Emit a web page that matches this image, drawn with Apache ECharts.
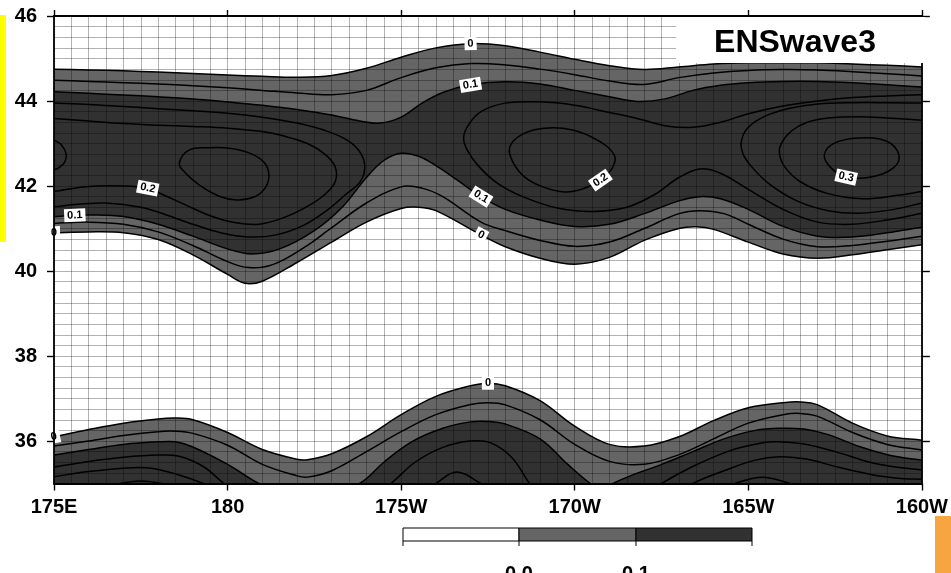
<!DOCTYPE html>
<html>
<head>
<meta charset="utf-8">
<title>ENSwave3</title>
<script src="https://cdn.jsdelivr.net/npm/echarts@6/dist/echarts.min.js"></script>
<style>
html, body { margin: 0; padding: 0; background: #fff; }
#main { width: 951px; height: 573px; }
</style>
</head>
<body>
<div id="main"></div>
<script>
/*
 * ENSwave3 : shaded contour map, 175E - 160W, 35N - 46N
 * contours are kept as [lon, lat] lists (lon east-positive, 185 = 175W)
 */

var lonMin = 175, lonMax = 200;
var latMin = 35, latMax = 46;
var lonTicks = [175, 180, 185, 190, 195, 200];
var latTicks = [36, 38, 40, 42, 44, 46];
var shadeLevels = ['0.0', '0.1'];

/* ---- northern band ---- */
var mainZeroTop = [[175,44.75],[176,44.73],[177,44.71],[178,44.68],[179,44.65],[180,44.61],[181,44.58],[182,44.56],[183,44.6],[184,44.77],[185,45.03],[186,45.25],[187,45.35],[188,45.3],[189,45.15],[190,44.98],[191,44.83],[192,44.74],[193,44.8],[194,44.87],[195,44.9],[196,44.9],[197,44.9],[198,44.87],[199,44.84],[200,44.8]];
var mainFiveTop = [[175,44.49],[176,44.46],[177,44.43],[178,44.4],[179,44.36],[180,44.31],[181,44.25],[182,44.19],[183,44.15],[184,44.25],[185,44.55],[186,44.78],[187,44.88],[188,44.85],[189,44.75],[190,44.62],[191,44.47],[192,44.39],[193,44.55],[194,44.66],[195,44.72],[196,44.74],[197,44.73],[198,44.69],[199,44.64],[200,44.59]];
var mainTenTop = [[175,44.22],[176,44.18],[177,44.14],[178,44.1],[179,44.05],[180,43.98],[181,43.9],[182,43.8],[183,43.67],[183.8,43.53],[184.4,43.48],[185,43.62],[185.6,43.95],[186.2,44.2],[187,44.38],[188,44.45],[189,44.4],[190,44.25],[191,44.1],[191.8,43.99],[192.6,44.05],[193.4,44.25],[194.2,44.37],[195,44.43],[196,44.46],[197,44.46],[198,44.43],[199,44.38],[200,44.33]];
var mainTenBottom = [[175,41.28],[175.6,41.31],[176,41.32],[177,41.28],[178,41.1],[179,40.82],[180,40.52],[180.7,40.4],[181.5,40.52],[182.5,40.95],[183.3,41.5],[184,42.2],[184.5,42.6],[185,42.77],[185.5,42.7],[186,42.48],[186.6,42.15],[187.3,41.75],[188,41.45],[189,41.2],[190,41.05],[191,41.1],[192,41.35],[193,41.65],[193.6,41.75],[194.2,41.7],[195,41.45],[196,41.05],[197,40.82],[198,40.8],[199,40.9],[200,41.03]];
var mainFiveBottom = [[175,41.12],[176,41.15],[177,41.1],[178,40.92],[179,40.6],[180,40.22],[180.6,40.08],[181.3,40.15],[182.2,40.55],[183,41.02],[184,41.6],[185,41.98],[185.6,41.95],[186.2,41.75],[187.3,41.15],[188,40.95],[189,40.72],[190,40.58],[191,40.68],[192,41.0],[193,41.35],[193.6,41.42],[194.3,41.35],[195,41.1],[196,40.75],[197,40.57],[198,40.6],[199,40.7],[200,40.82]];
var mainZeroBottom = [[175,40.9],[176,40.92],[177,40.9],[178,40.74],[179,40.38],[180,39.92],[180.5,39.71],[181,39.76],[182,40.2],[183,40.68],[184,41.15],[185,41.47],[185.5,41.5],[186,41.42],[187.3,40.85],[188,40.57],[189,40.3],[190,40.16],[191,40.32],[192,40.72],[193,41.0],[193.5,41.04],[194,40.98],[195,40.68],[196,40.4],[197,40.3],[198,40.38],[199,40.5],[200,40.62]];

var westFifteen = [[175,43.95],[176,43.92],[177,43.87],[178,43.82],[179,43.77],[180,43.71],[181,43.62],[182,43.48],[182.9,43.28],[183.5,43.05],[183.85,42.75],[183.95,42.4],[183.8,42.08],[183.4,41.8],[182.9,41.45],[182.2,41.08],[181.4,40.85],[180.6,40.8],[179.8,40.9],[179,41.1],[178.2,41.33],[177.5,41.5],[176.5,41.6],[175.7,41.57],[175,41.51]];
var westTwenty = [[175,43.59],[176,43.53],[177,43.47],[178,43.43],[179,43.4],[180,43.36],[181,43.28],[181.6,43.18],[182.3,43.0],[182.8,42.75],[183.1,42.45],[183.1,42.1],[182.8,41.8],[182.3,41.52],[181.6,41.25],[180.9,41.1],[180.2,41.14],[179.5,41.3],[178.8,41.55],[178.05,41.83],[177.7,41.95],[177,42.0],[176,41.99],[175,41.87]];
var westQuarterEdge = [[175,43.08],[175.2,42.98],[175.35,42.75],[175.3,42.55],[175.12,42.42],[175,42.38]];
var westQuarter = [[178.61,42.54],[178.9,42.85],[179.47,42.9],[180.05,42.89],[180.62,42.78],[181.05,42.56],[181.19,42.26],[181.08,41.95],[180.76,41.74],[180.28,41.67],[179.76,41.76],[179.19,42.02],[178.76,42.33]];
var midTwenty = [[188.13,42.92],[188.5,43.22],[189.13,43.36],[189.94,43.32],[190.65,43.08],[191.14,42.73],[191.08,42.42],[190.74,42.14],[190.22,41.93],[189.71,41.86],[189.08,41.98],[188.56,42.21],[188.22,42.56]];
var eastFifteen = [[200,44.15],[199,44.12],[198,44.08],[197,44.0],[196,43.88],[195,43.7],[194.2,43.5],[193.4,43.38],[192.6,43.42],[191.8,43.59],[191,43.73],[190,43.9],[189,43.98],[188,43.95],[187.3,43.75],[186.95,43.45],[186.8,43.15],[186.9,42.85],[187.25,42.45],[187.8,42.05],[188.5,41.75],[189.5,41.48],[190.5,41.4],[191.5,41.5],[192.3,41.8],[193,42.2],[193.6,42.4],[194.2,42.3],[195,41.92],[196,41.45],[197,41.15],[198,41.1],[199,41.2],[200,41.36]];
var eastTwenty = [[200,43.95],[199,43.96],[198,43.96],[197,43.93],[196.2,43.83],[195.5,43.65],[195,43.38],[194.8,43.05],[194.85,42.75],[195.1,42.45],[195.6,42.05],[196.4,41.65],[197.3,41.42],[198.2,41.36],[199.2,41.45],[200,41.6]];
var eastQuarter = [[200,43.55],[199,43.6],[198.2,43.63],[197.3,43.6],[196.7,43.5],[196.25,43.3],[195.95,43.0],[195.9,42.75],[196.05,42.45],[196.5,42.1],[197.3,41.82],[198.3,41.7],[199.3,41.78],[200,41.87]];
var eastThirty = [[197.19,42.73],[197.48,43.01],[198.19,43.13],[198.97,43.06],[199.34,42.73],[199.17,42.42],[198.54,42.21],[197.82,42.21],[197.39,42.42]];

/* ---- southern band ---- */
var lowZero = [[175,36.1],[176,36.27],[177,36.42],[178,36.52],[178.5,36.54],[179,36.5],[180,36.2],[181,35.8],[182,35.57],[182.3,35.56],[183,35.7],[184,36.1],[185,36.62],[186,37.05],[187,37.3],[187.5,37.36],[188,37.3],[189,36.95],[190,36.35],[191,35.92],[192,35.88],[193,36.1],[194,36.48],[195,36.78],[196,36.9],[196.5,36.92],[197,36.85],[198,36.42],[199,36.12],[200,36.02]];
var lowFive = [[175,35.88],[176,36.0],[177,36.13],[178,36.22],[178.5,36.23],[179,36.18],[180,35.9],[181,35.45],[182,35.18],[182.3,35.15],[183,35.3],[184,35.75],[185,36.22],[186,36.62],[187,36.86],[187.5,36.9],[188,36.85],[189,36.5],[190,35.92],[191,35.52],[192,35.45],[193,35.68],[194,36.05],[195,36.42],[196,36.62],[196.5,36.65],[197,36.58],[198,36.2],[199,35.92],[200,35.79]];
var lowTen = [[175,35.67],[176,35.8],[177,35.92],[178,35.98],[178.5,35.98],[179,35.86],[180,35.45],[180.9,35.0],[181.6,34.75],[182.6,34.7],[183.8,35.0],[184.5,35.5],[185.3,35.98],[186.2,36.3],[187,36.45],[187.5,36.46],[188,36.4],[189,36.05],[189.8,35.45],[190.45,35.0],[190.8,34.85],[191.1,35.0],[191.6,35.18],[192.5,35.45],[193.4,35.75],[194.3,36.05],[195.2,36.25],[195.9,36.3],[196.6,36.28],[197.3,36.15],[198.2,35.87],[199.1,35.66],[200,35.55]];
var lowFifteenW = [[175,35.39],[176,35.52],[177,35.62],[178,35.67],[178.6,35.64],[179.3,35.4],[179.9,35.0],[180.4,34.75]];
var lowTwentyW = [[175,35.16],[176,35.28],[177,35.36],[177.8,35.36],[178.6,35.2],[179.3,35.0],[179.8,34.8]];
var lowQuarterW = [[176.5,34.9],[176.9,35.0],[177.5,35.06],[178.1,35.0],[178.5,34.9]];
var lowFifteenM = [[184.2,34.75],[184.7,35.0],[185.4,35.5],[186.2,35.85],[187,36.0],[187.6,35.95],[188.2,35.6],[188.7,35.0],[189,34.75]];
var lowTwentyM = [[185.8,34.9],[186.0,35.0],[186.6,35.27],[187.3,35.0],[187.5,34.9]];
var lowFifteenE = [[192.2,34.8],[192.5,35.0],[193.4,35.4],[194.5,35.78],[195.5,35.97],[195.9,35.98],[196.6,35.93],[197.5,35.75],[198.5,35.5],[199.3,35.38],[200,35.32]];
var lowTwentyE = [[193.1,34.8],[193.4,35.0],[194.3,35.3],[195.2,35.55],[195.9,35.63],[196.7,35.57],[197.6,35.38],[198.6,35.2],[199.4,35.12],[200,35.1]];
var lowQuarterE = [[194.3,34.9],[194.6,35.0],[195.4,35.15],[196.2,35.0],[196.5,34.9]];

/* ---- drawing setup ---- */
var shadeColors = ['#ffffff', '#656565', '#313131'];
var belowAxis = latMin - 1;   // only used to close the southern shapes under the frame

var shadeRegions = [
    { top: mainZeroTop, bottom: mainZeroBottom, color: shadeColors[1] },
    { top: mainTenTop, bottom: mainTenBottom, color: shadeColors[2] },
    { top: lowZero, color: shadeColors[1] },
    { top: lowTen, color: shadeColors[2] }
];

var contourLines = [
    { pts: mainZeroTop }, { pts: mainFiveTop }, { pts: mainTenTop },
    { pts: mainTenBottom }, { pts: mainFiveBottom }, { pts: mainZeroBottom },
    { pts: westFifteen }, { pts: westTwenty }, { pts: westQuarterEdge },
    { pts: westQuarter, closed: true }, { pts: midTwenty, closed: true },
    { pts: eastFifteen }, { pts: eastTwenty }, { pts: eastQuarter },
    { pts: eastThirty, closed: true },
    { pts: lowZero }, { pts: lowFive }, { pts: lowTen },
    { pts: lowFifteenW }, { pts: lowTwentyW }, { pts: lowQuarterW },
    { pts: lowFifteenM }, { pts: lowTwentyM },
    { pts: lowFifteenE }, { pts: lowTwentyE }, { pts: lowQuarterE }
];

var contourLabels = [
    { line: mainZeroTop, lon: 187, text: '0' },
    { line: mainTenTop, lon: 187, text: '0.1' },
    { line: mainTenBottom, lon: 175.6, text: '0.1' },
    { line: mainZeroBottom, lon: 175, text: '0' },
    { line: westTwenty, lon: 177.7, text: '0.2' },
    { line: mainTenBottom, lon: 187.3, text: '0.1' },
    { line: mainZeroBottom, lon: 187.3, text: '0' },
    { line: midTwenty, lon: 190.74, text: '0.2' },
    { line: eastThirty, lon: 197.82, text: '0.3' },
    { line: lowZero, lon: 175, text: '0' },
    { line: lowZero, lon: 187.5, text: '0' }
];

function lonLabel(v) {
    if (v < 180) return v + 'E';
    if (v === 180) return '180';
    return (360 - v) + 'W';
}

function indexOfLon(pts, lon) {
    for (var i = 0; i < pts.length; i++) {
        if (pts[i][0] === lon) return i;
    }
    return 0;
}

/* cardinal spline through the projected points, as svg path commands */
function curveCmd(px, closed, first) {
    var n = px.length;
    var s = 0.36;
    function P(i) {
        if (closed) return px[(i + n) % n];
        return px[Math.max(0, Math.min(n - 1, i))];
    }
    function tangent(i) {
        var a = P(i - 1), b = P(i + 1);
        var dx = b[0] - a[0], dy = b[1] - a[1];
        var len = Math.sqrt(dx * dx + dy * dy) || 1;
        return [dx / len, dy / len];
    }
    function f(v) { return v.toFixed(2); }
    var d = (first ? 'M' : 'L') + f(px[0][0]) + ' ' + f(px[0][1]);
    var segs = closed ? n : n - 1;
    for (var i = 0; i < segs; i++) {
        var p1 = P(i), p2 = P(i + 1);
        var t1 = tangent(i), t2 = tangent(i + 1);
        var dx = p2[0] - p1[0], dy = p2[1] - p1[1];
        var len = Math.sqrt(dx * dx + dy * dy);
        d += 'C' + f(p1[0] + t1[0] * len * s) + ' ' + f(p1[1] + t1[1] * len * s) + ' ' +
             f(p2[0] - t2[0] * len * s) + ' ' + f(p2[1] - t2[1] * len * s) + ' ' +
             f(p2[0]) + ' ' + f(p2[1]);
    }
    return d;
}

function project(api, pts) {
    return pts.map(function (p) { return api.coord(p); });
}

var labelFont = { fontFamily: 'Liberation Sans', fontWeight: 'bold', fontSize: 20, color: '#000' };
var frameLine = { show: true, onZero: false, lineStyle: { color: '#000', width: 1.8 } };
var gridLine = { show: true, lineStyle: { color: 'rgba(0,0,0,0.3)', width: 1 } };

var myChart = echarts.init(document.getElementById('main'), null, { renderer: 'canvas' });

var option = {
    animation: false,
    backgroundColor: '#fff',
    grid: { left: 54, right: 25, top: 16, bottom: 89.5 },
    xAxis: [
        { type: 'value', min: lonMin, max: lonMax, interval: 0.5, position: 'bottom', z: 2,
          axisLine: { show: false }, axisTick: { show: false }, axisLabel: { show: false },
          splitLine: gridLine },
        { type: 'value', min: lonMin, max: lonMax, interval: 5, position: 'bottom', z: 6,
          axisLine: frameLine,
          axisTick: { show: true, length: 7, lineStyle: { color: '#000', width: 1.4 } },
          axisLabel: Object.assign({ margin: 14, formatter: lonLabel, showMinLabel: true, showMaxLabel: true }, labelFont),
          splitLine: { show: false } },
        { type: 'value', min: lonMin, max: lonMax, interval: 5, position: 'top', z: 6,
          axisLine: frameLine,
          axisTick: { show: true, length: 6, lineStyle: { color: '#000', width: 1.4 } },
          axisLabel: { show: false }, splitLine: { show: false } }
    ],
    yAxis: [
        { type: 'value', min: latMin, max: latMax, interval: 0.25, position: 'left', z: 2,
          axisLine: { show: false }, axisTick: { show: false }, axisLabel: { show: false },
          splitLine: gridLine },
        { type: 'value', min: latMin, max: latMax, position: 'left', z: 6,
          axisLine: frameLine,
          axisTick: { show: true, length: 7, customValues: latTicks, lineStyle: { color: '#000', width: 1.4 } },
          axisLabel: Object.assign({ margin: 17, customValues: latTicks }, labelFont),
          splitLine: { show: false } },
        { type: 'value', min: latMin, max: latMax, position: 'right', z: 6,
          axisLine: frameLine,
          axisTick: { show: true, length: 8, customValues: latTicks, lineStyle: { color: '#000', width: 1.4 } },
          axisLabel: { show: false }, splitLine: { show: false } }
    ],
    series: [
        {
            type: 'custom', name: 'shading', coordinateSystem: 'cartesian2d',
            clip: true, silent: true, z: 1,
            data: shadeRegions.map(function (r, i) { return [lonMin, latMin, i]; }),
            renderItem: function (params, api) {
                var r = shadeRegions[params.dataIndex];
                var d = curveCmd(project(api, r.top), false, true);
                if (r.bottom) {
                    d += curveCmd(project(api, r.bottom.slice().reverse()), false, false);
                } else {
                    var br = api.coord([lonMax, belowAxis]), bl = api.coord([lonMin, belowAxis]);
                    d += 'L' + br[0] + ' ' + br[1] + 'L' + bl[0] + ' ' + bl[1];
                }
                d += 'Z';
                return { type: 'path', shape: { pathData: d }, style: { fill: r.color } };
            }
        },
        {
            type: 'custom', name: 'contours', coordinateSystem: 'cartesian2d',
            clip: true, silent: true, z: 4,
            data: contourLines.map(function (c, i) { return [lonMin, latMin, i]; }),
            renderItem: function (params, api) {
                var c = contourLines[params.dataIndex];
                var d = curveCmd(project(api, c.pts), !!c.closed, true) + (c.closed ? 'Z' : '');
                return {
                    type: 'path', shape: { pathData: d },
                    style: { fill: 'none', stroke: '#000', lineWidth: 1.5 }
                };
            }
        },
        {
            type: 'custom', name: 'contour labels', coordinateSystem: 'cartesian2d',
            silent: true, z: 5,
            data: contourLabels.map(function (l, i) { return [lonMin, latMin, i]; }),
            renderItem: function (params, api) {
                var l = contourLabels[params.dataIndex];
                var k = indexOfLon(l.line, l.lon);
                var p = api.coord(l.line[k]);
                var a = api.coord(l.line[Math.max(k - 1, 0)]);
                var b = api.coord(l.line[Math.min(k + 1, l.line.length - 1)]);
                var ang = Math.atan2(b[1] - a[1], b[0] - a[0]);
                if (ang > Math.PI / 2) ang -= Math.PI;
                else if (ang < -Math.PI / 2) ang += Math.PI;
                return {
                    type: 'text', x: p[0], y: p[1], rotation: -ang,
                    style: {
                        text: l.text, x: 0, y: 0, align: 'center', verticalAlign: 'middle',
                        fill: '#000', backgroundColor: '#fff', padding: [1, 3],
                        font: 'bold 11px "Liberation Sans"'
                    }
                };
            }
        }
    ],
    graphic: [
        // title box
        { type: 'rect', z: 20, shape: { x: 676, y: 17, width: 249, height: 46 }, style: { fill: '#fff' } },
        { type: 'text', z: 21, x: 795, y: 43,
          style: { text: 'ENSwave3', align: 'center', verticalAlign: 'middle', fill: '#000',
                   font: 'bold 32px "Liberation Sans"' } },
        // colour bar
        { type: 'rect', z: 20, shape: { x: 403, y: 528, width: 116, height: 13 }, style: { fill: shadeColors[0], stroke: '#000', lineWidth: 1 } },
        { type: 'rect', z: 20, shape: { x: 519, y: 528, width: 117, height: 13 }, style: { fill: shadeColors[1], stroke: '#000', lineWidth: 1 } },
        { type: 'rect', z: 20, shape: { x: 636, y: 528, width: 116, height: 13 }, style: { fill: shadeColors[2], stroke: '#000', lineWidth: 1 } },
        { type: 'line', z: 20, shape: { x1: 403, y1: 541, x2: 403, y2: 546 }, style: { stroke: '#000', lineWidth: 1 } },
        { type: 'line', z: 20, shape: { x1: 519, y1: 541, x2: 519, y2: 546 }, style: { stroke: '#000', lineWidth: 1 } },
        { type: 'line', z: 20, shape: { x1: 636, y1: 541, x2: 636, y2: 546 }, style: { stroke: '#000', lineWidth: 1 } },
        { type: 'line', z: 20, shape: { x1: 752, y1: 541, x2: 752, y2: 546 }, style: { stroke: '#000', lineWidth: 1 } },
        { type: 'text', z: 21, x: 519, y: 564,
          style: { text: shadeLevels[0], align: 'center', verticalAlign: 'top', fill: '#000', font: 'bold 20px "Liberation Sans"' } },
        { type: 'text', z: 21, x: 636, y: 564,
          style: { text: shadeLevels[1], align: 'center', verticalAlign: 'top', fill: '#000', font: 'bold 20px "Liberation Sans"' } },
        // page markers
        { type: 'rect', z: 20, shape: { x: 0, y: 15, width: 6, height: 227 }, style: { fill: '#ffff00' } },
        { type: 'rect', z: 20, shape: { x: 935, y: 516, width: 16, height: 57 }, style: { fill: '#f7a540' } }
    ]
};

myChart.setOption(option);
</script>
</body>
</html>
